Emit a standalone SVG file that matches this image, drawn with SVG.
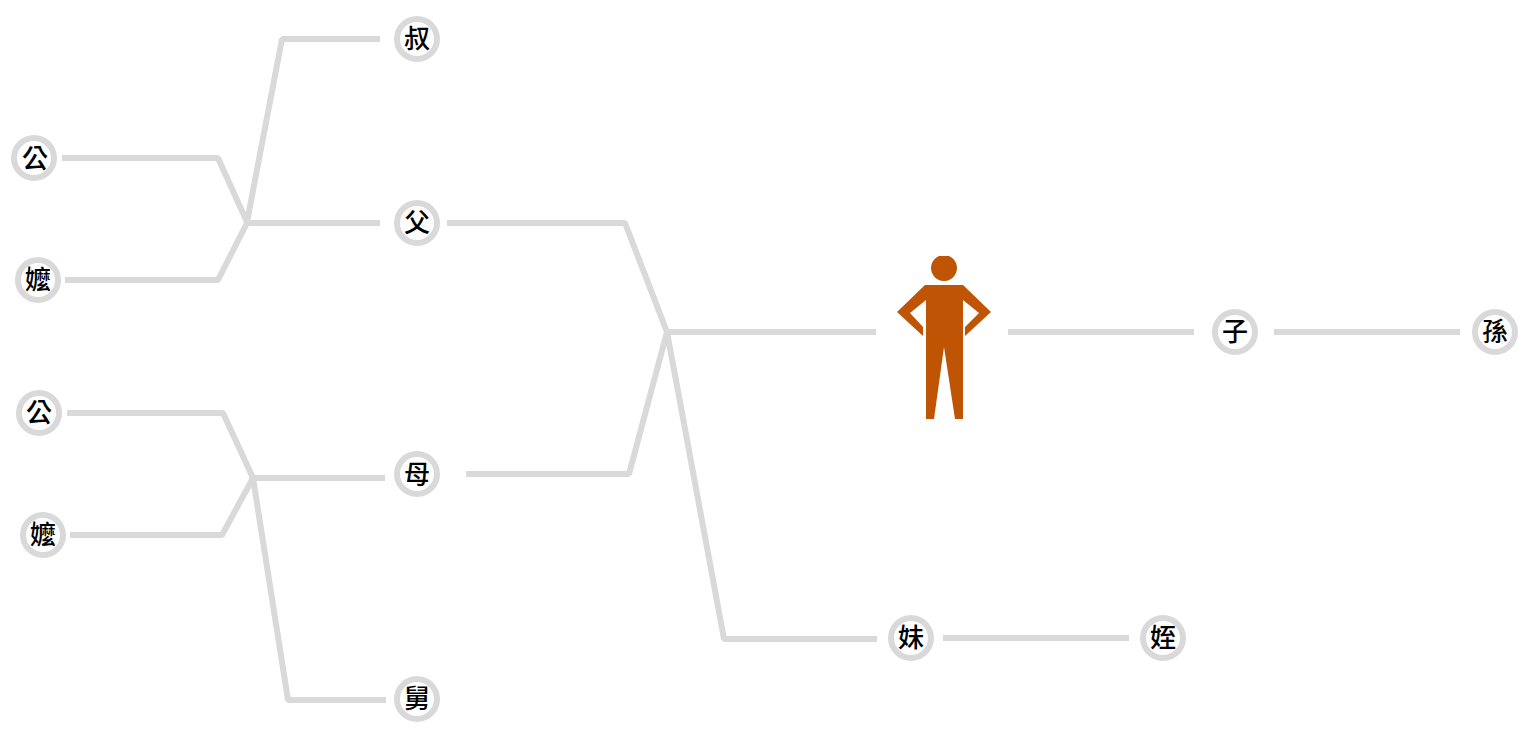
<svg xmlns="http://www.w3.org/2000/svg" width="1533" height="741" viewBox="0 0 1533 741">
<style>
.c{fill:none;stroke:#d9d9d9;stroke-width:6;stroke-linejoin:bevel}
.n circle{fill:#fff;stroke:#d9d9d9;stroke-width:6}
.n text{font-family:"Noto Sans CJK TC","Noto Sans CJK SC",sans-serif;font-size:26px;font-weight:500;fill:#000;text-anchor:middle}
</style>
<rect width="1533" height="741" fill="#fff"/>
<g id="connectors">
<path class="c" d="M62 158H218L247 222L282 39H380"/>
<path class="c" d="M65 280H218L247 223H380"/>
<path class="c" d="M67 413H223L253 478L288 700H386"/>
<path class="c" d="M70 535H222L253 478H385"/>
<path class="c" d="M447 223H625L667 332H876"/>
<path class="c" d="M466 474H629L667 332L724 639H877"/>
<path class="c" d="M943 638H1129"/>
<path class="c" d="M1008 332H1194"/>
<path class="c" d="M1274 332H1460"/>
</g>
<g id="n-shu" class="n"><circle cx="417" cy="39" r="20"/><text x="417" y="48">叔</text></g>
<g id="n-gong1" class="n"><circle cx="34" cy="158" r="20"/><text x="35" y="168">公</text></g>
<g id="n-fu" class="n"><circle cx="417" cy="223" r="20"/><text x="417" y="232">父</text></g>
<g id="n-ma1" class="n"><circle cx="38" cy="280" r="20"/><text x="38" y="289">嬤</text></g>
<g id="n-gong2" class="n"><circle cx="39" cy="413" r="20"/><text x="39" y="422">公</text></g>
<g id="n-mu" class="n"><circle cx="417" cy="474" r="20"/><text x="417" y="484">母</text></g>
<g id="n-ma2" class="n"><circle cx="43" cy="535" r="20"/><text x="43" y="544">嬤</text></g>
<g id="n-jiu" class="n"><circle cx="417" cy="699" r="20"/><text x="417" y="708">舅</text></g>
<g id="n-mei" class="n"><circle cx="911" cy="638" r="20"/><text x="911" y="647">妹</text></g>
<g id="n-zhi" class="n"><circle cx="1163" cy="638" r="20"/><text x="1163" y="647">姪</text></g>
<g id="n-zi" class="n"><circle cx="1235" cy="332" r="20"/><text x="1235" y="341">子</text></g>
<g id="n-sun" class="n"><circle cx="1495" cy="332" r="20"/><text x="1495" y="341">孫</text></g>
<g id="n-self" fill="#bf5504">
<path d="M939 256A13 13 0 1 0 949 256Z"/>
<path d="M925 285H963L991 312L965 336V327L979 313L963 300V419H955L944 347L934 419H926V300L910 313L923 327V336L897 312Z"/>
</g>
</svg>
